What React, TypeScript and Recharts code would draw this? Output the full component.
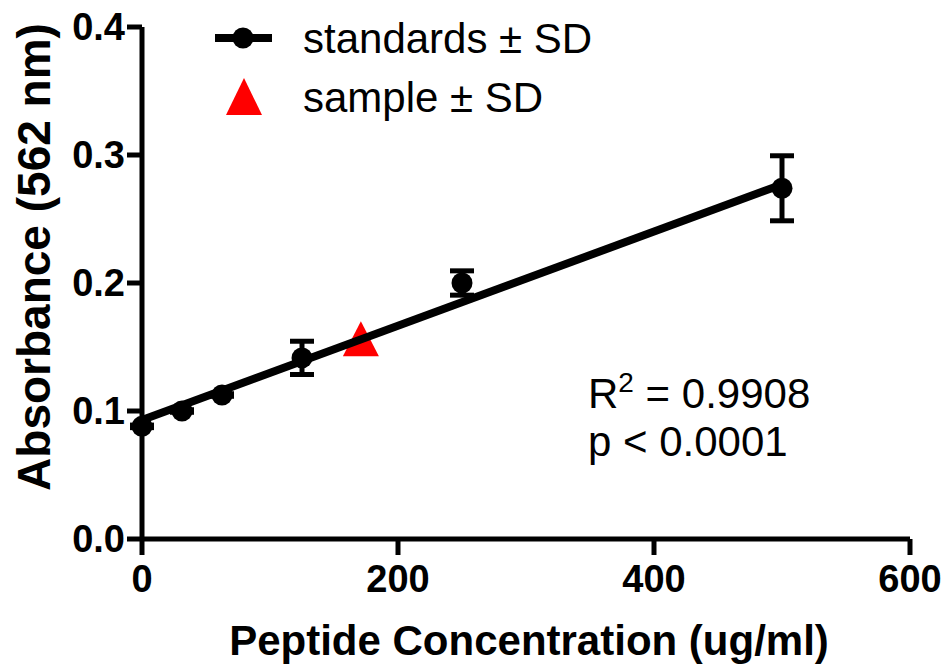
import React from 'react';
import { ComposedChart, Scatter, XAxis, YAxis, ErrorBar, Label } from 'recharts';

// standards (mean ± SD)
const stdConc = [0, 31.25, 62.5, 125, 250, 500];
const stdAbs = [0.088, 0.1, 0.1125, 0.1415, 0.2, 0.274];
const stdSd = [0.001, 0.001, 0.001, 0.013, 0.0095, 0.0254];

// unknown sample
const sampleConc = [171];
const sampleAbs = [0.156];

// linear fit end points
const fitConc = [0, 500];
const fitAbs = [0.093, 0.277];

const xTicks = [0, 200, 400, 600];
const yTicks = [0, 0.1, 0.2, 0.3, 0.4];

const standards = stdConc.map((x, i) => ({ x, y: stdAbs[i], err: stdSd[i] }));
const sample = sampleConc.map((x, i) => ({ x, y: sampleAbs[i] }));
const fit = fitConc.map((x, i) => ({ x, y: fitAbs[i] }));

const FONT = 'Arial, "Liberation Sans", Helvetica, sans-serif';

const Dot = (props: any) => <circle cx={props.cx} cy={props.cy} r={10.5} fill="#000" />;

const Tri = (props: any) => {
  const { cx, cy } = props;
  return <polygon points={`${cx},${cy - 18} ${cx - 18},${cy + 17} ${cx + 18},${cy + 17}`} fill="#ff0000" />;
};

const NoDot = () => <g />;

const LegendBox = () => (
  <svg width={640} height={130} style={{ position: 'absolute', left: 0, top: 0, pointerEvents: 'none' }}>
    <line x1={215} y1={38} x2={272} y2={38} stroke="#000" strokeWidth={8} />
    <circle cx={243} cy={38} r={10.5} fill="#000" />
    <text x={303} y={53} fontSize={42} fontFamily={FONT} fill="#000">standards ± SD</text>
    <polygon points="244,78 226,115 262,115" fill="#ff0000" />
    <text x={303} y={112} fontSize={42} fontFamily={FONT} fill="#000">sample ± SD</text>
  </svg>
);

const tickStyle = { fill: '#000', fontSize: 38, fontWeight: 'bold' as const, fontFamily: FONT };

export default function App() {
  return (
    <div style={{ position: 'absolute', left: 0, top: 0, width: 949, height: 667, background: '#fff' }}>
      <ComposedChart width={949} height={667} margin={{ top: 27, right: 39, left: 0, bottom: 0 }}>
        <XAxis
          type="number"
          dataKey="x"
          domain={[0, 600]}
          ticks={xTicks}
          height={128}
          tickSize={16}
          tickMargin={10}
          tick={tickStyle}
          axisLine={{ stroke: '#000', strokeWidth: 5 }}
          tickLine={{ stroke: '#000', strokeWidth: 5 }}
        >
          <Label
            content={() => (
              <text x={529} y={655} textAnchor="middle" fontSize={42} fontWeight="bold" fontFamily={FONT} fill="#000">
                Peptide Concentration (ug/ml)
              </text>
            )}
          />
        </XAxis>
        <YAxis
          type="number"
          dataKey="y"
          domain={[0, 0.4]}
          ticks={yTicks}
          width={142}
          tickSize={15}
          tickMargin={2}
          tickFormatter={(v: number) => v.toFixed(1)}
          tick={tickStyle}
          axisLine={{ stroke: '#000', strokeWidth: 5 }}
          tickLine={{ stroke: '#000', strokeWidth: 5 }}
        >
          <Label
            content={() => (
              <text
                transform="translate(50,257) rotate(-90)"
                textAnchor="middle"
                fontSize={46}
                fontWeight="bold"
                fontFamily={FONT}
                fill="#000"
              >
                Absorbance (562 nm)
              </text>
            )}
          />
        </YAxis>
        <Scatter data={sample} shape={<Tri />} isAnimationActive={false} />
        <Scatter
          data={fit}
          shape={<NoDot />}
          line={{ stroke: '#000', strokeWidth: 8 }}
          isAnimationActive={false}
        />
        <Scatter data={standards} shape={<Dot />} isAnimationActive={false}>
          <ErrorBar dataKey="err" direction="y" width={12} stroke="#000" strokeWidth={5} />
        </Scatter>
      </ComposedChart>
      <LegendBox />
      <div
        style={{
          position: 'absolute',
          left: 588,
          top: 370,
          fontFamily: FONT,
          fontSize: 42,
          lineHeight: '48px',
          color: '#000',
        }}
      >
        <div>
          R<sup style={{ fontSize: 28, verticalAlign: 'top', lineHeight: '26px' }}>2</sup> = 0.9908
        </div>
        <div>p &lt; 0.0001</div>
      </div>
    </div>
  );
}
